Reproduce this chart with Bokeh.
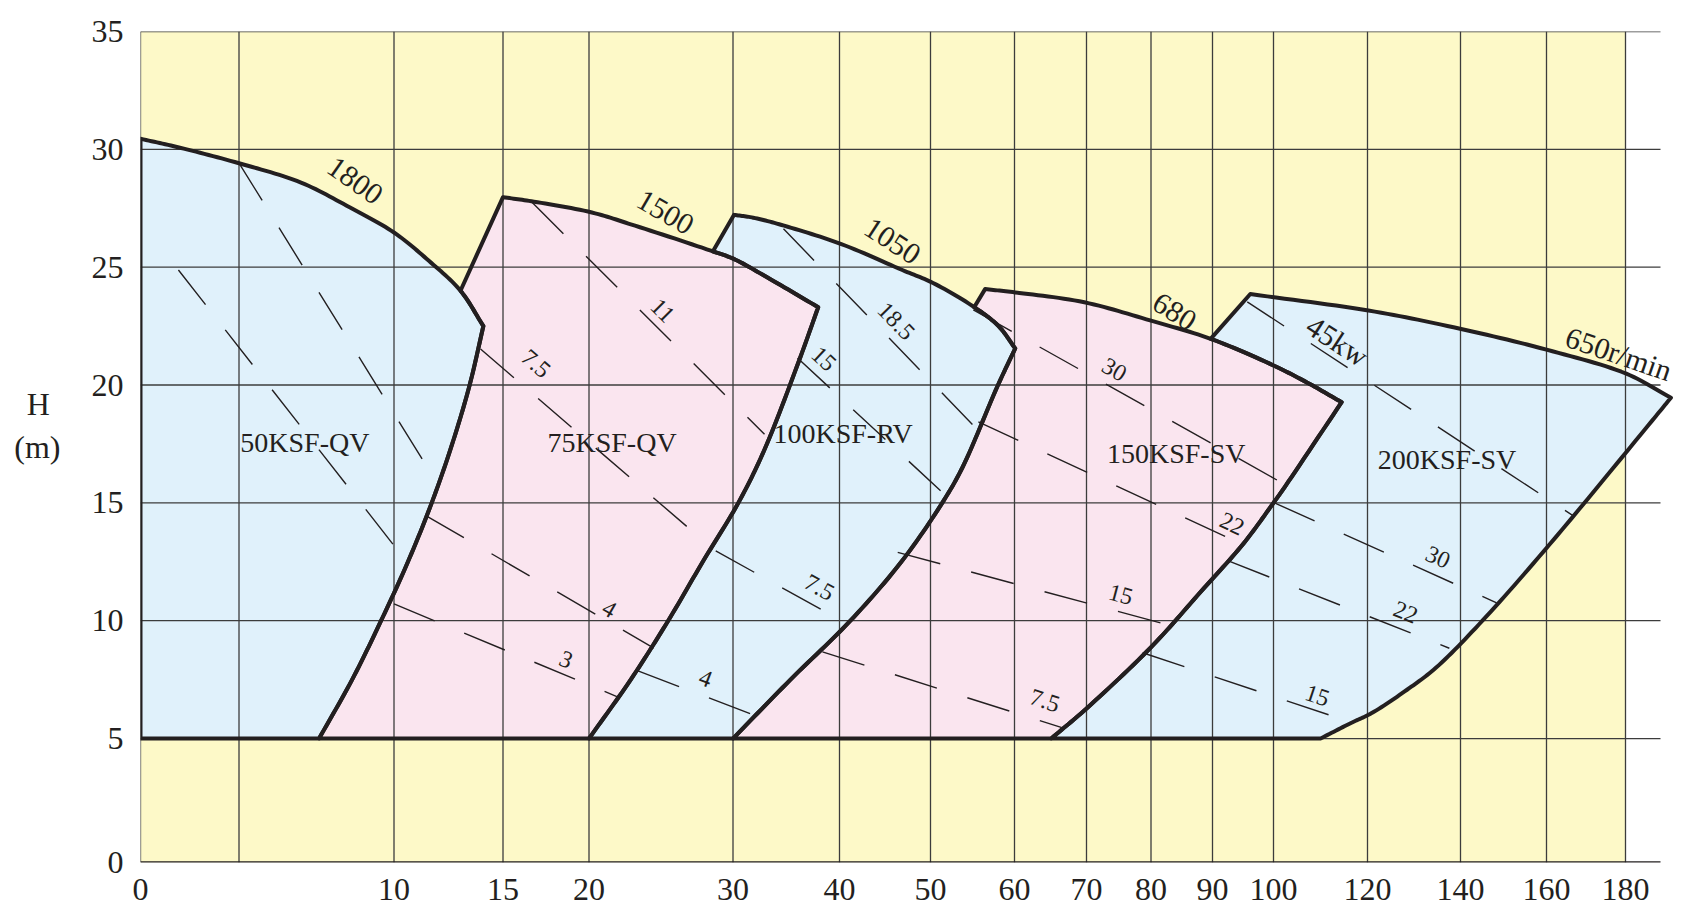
import math
import numpy as np
from bokeh.plotting import figure
from bokeh.models import Range1d, FixedTicker, CustomJSTickFormatter
from bokeh.embed import file_html
from bokeh.resources import INLINE
from bokeh.core.properties import value

# ---------------- data ----------------
# non-uniform flow axis Q: tick values and where they sit along the axis (px from left edge)
Q_AXIS = [0, 4, 10, 15, 20, 30, 40, 50, 60, 70, 80, 90, 100, 120, 140, 160, 180]
Q_AXIS_POS = [0, 98.5, 253.5, 362.5, 448.5, 592.5, 699, 790, 874, 946, 1010.5, 1072, 1133, 1227, 1320, 1406, 1485]
X_TICK_LABELS = ["0", "", "10", "15", "20", "30", "40", "50", "60", "70", "80", "90", "100", "120", "140", "160", "180"]
# head axis H: the 0-5 band is drawn a little taller than the others
H_AXIS = [0, 5, 35]
H_AXIS_POS = [-0.26, 5, 35]
H_TICKS = [0, 5, 10, 15, 20, 25, 30, 35]

MODELS = ["50KSF-QV", "75KSF-QV", "100KSF-RV", "150KSF-SV", "200KSF-SV"]
MODEL_Q = [6.55, 21.6, 40.4, 84.1, 137.1]
MODEL_H = [17.56, 17.56, 17.93, 17.1, 16.85]

# top (max-speed) curves, from the upper-left corner to the right corner
R1_TOP_Q = [0, 1.6, 4, 6.4, 8.3, 10, 11.6, 13.05, 14.1]
R1_TOP_H = [30.45, 30.07, 29.41, 28.59, 27.53, 26.47, 25.27, 24.0, 22.5]
R2_TOP_Q = [15, 16.8, 20.2, 23.2, 28.46, 30.07, 33.2, 38.0]
R2_TOP_H = [27.97, 27.78, 27.32, 26.76, 25.7, 25.35, 24.57, 23.3]
R3_TOP_Q = [30.1, 31.9, 34.8, 40.2, 46.9, 50.3, 55.1, 58.1, 60.1]
R3_TOP_H = [27.22, 27.1, 26.76, 25.98, 24.88, 24.33, 23.33, 22.5, 21.55]
R4_TOP_Q = [56.5, 60.1, 69.7, 80, 89.7, 100, 107.2, 114.5]
R4_TOP_H = [24.07, 23.93, 23.51, 22.73, 21.96, 20.83, 20.1, 19.27]
R5_TOP_Q = [96.2, 120.2, 138.5, 160, 180.2, 191.5]
R5_TOP_H = [23.86, 23.16, 22.45, 21.5, 20.48, 19.46]

# right-hand edges, from just below the right corner down to H = 5
R1_RIGHT_Q = [13.47, 12.67, 11.73, 10.64, 9.5, 8.38, 7.1]
R1_RIGHT_H = [20, 17.5, 15, 12.5, 10, 7.5, 5]
R2_RIGHT_Q = [36.2, 32.9, 30.5, 27.9, 25.5, 22.9, 20]
R2_RIGHT_H = [21.03, 17.2, 15, 12.5, 10, 7.5, 5]
R3_RIGHT_Q = [58.0, 53.8, 51.4, 46.8, 41.2, 35.4, 30.0]
R3_RIGHT_H = [19.97, 16.5, 15, 12.5, 10, 7.5, 5]
R4_RIGHT_Q = [101.9, 100, 95.1, 88.1, 80.1, 70.1, 65.1]
R4_RIGHT_H = [15.53, 15.0, 13.28, 11.23, 8.9, 6.3, 5]
R5_RIGHT_Q = [186.8, 160.6, 145.1, 134.7, 128.5, 120.9, 116.5, 110.0]
R5_RIGHT_H = [18.5, 13.2, 10, 8, 7.07, 6.08, 5.66, 5.0]

# where each region's left edge meets the previous region's top curve
MEET_Q = [13.05, 28.6, 55.2, 89.7]
MEET_H = [24.0, 25.67, 23.3, 21.96]

# speed labels on the top curves
SPEED_TEXT = ["1800", "1500", "1050", "680", "650r/min"]
SPEED_Q = [8.49, 25.3, 45.8, 83.8, 178.3]
SPEED_H = [28.66, 27.32, 26.1, 23.1, 21.33]
SPEED_ANGLE = [-35, -30, -33, -32, -19]

# power (kW) lines: start and end points, and label
PW_Q0 = [4.0, 1.54, 16.7, 13.97, 11.46, 10.0, 34.74, 36.06, 28.8, 23.4, 55.1, 55.7, 46.4, 38.4, 95.7, 100.2, 92.6, 78.7]
PW_H0 = [29.42, 24.88, 27.74, 21.53, 14.46, 10.71, 26.63, 21.15, 12.96, 7.87, 23.19, 18.44, 12.9, 8.68, 23.53, 15.0, 12.54, 8.64]
PW_Q1 = [12.0, 10.44, 32.96, 28.5, 24.5, 22.1, 55.5, 51.2, 40.7, 32.4, 102.6, 95.4, 83.8, 66.7, 166.8, 148.4, 137.6, 116.8]
PW_H1 = [15.8, 12.67, 17.91, 13.1, 8.84, 6.74, 18.14, 15.51, 9.9, 5.92, 15.76, 13.18, 9.75, 5.45, 14.45, 10.76, 8.83, 5.67]
PW_TEXT = ["", "", "11", "7.5", "4", "3", "18.5", "15", "7.5", "4", "30", "22", "15", "7.5", "45kw", "30", "22", "15"]
PW_LQ = [0, 0, 25.1, 16.9, 21.4, 18.66, 46.2, 38.5, 38.1, 28.1, 74.3, 93.2, 75.3, 64.2, 113.6, 135.1, 128.2, 109.3]
PW_LH = [0, 0, 23.15, 20.9, 10.48, 8.34, 22.7, 21.1, 11.4, 7.54, 20.64, 14.1, 11.1, 6.6, 21.87, 12.68, 10.35, 6.81]

# ---------------- helpers ----------------
FRAME_W, FRAME_H = 1540, 831
V0, V1 = H_AXIS_POS[0], H_AXIS_POS[-1]
PX_PER_V = FRAME_H / (V1 - V0)
U_GRID_END = 1520


def ux(q):
    q = np.asarray(q, dtype=float)
    u = np.interp(q, Q_AXIS, Q_AXIS_POS)
    slope = (Q_AXIS_POS[-1] - Q_AXIS_POS[-2]) / (Q_AXIS[-1] - Q_AXIS[-2])
    return np.where(q > Q_AXIS[-1], Q_AXIS_POS[-1] + (q - Q_AXIS[-1]) * slope, u)


def vy(h):
    return np.interp(np.asarray(h, dtype=float), H_AXIS, H_AXIS_POS)


def fl(a):
    return [float(v) for v in np.atleast_1d(a)]


def smooth_screen(qs, hs, n=14):
    """Centripetal Catmull-Rom through the read points, drawn in screen space."""
    P = np.column_stack([ux(qs), vy(hs) * PX_PER_V])
    if len(P) < 3:
        return fl(P[:, 0]), fl(P[:, 1] / PX_PER_V)
    P = np.vstack([2 * P[0] - P[1], P, 2 * P[-1] - P[-2]])
    out = []
    for i in range(1, len(P) - 2):
        p0, p1, p2, p3 = P[i - 1], P[i], P[i + 1], P[i + 2]
        t0 = 0.0
        t1 = t0 + max(np.linalg.norm(p1 - p0), 1e-6) ** 0.5
        t2 = t1 + max(np.linalg.norm(p2 - p1), 1e-6) ** 0.5
        t3 = t2 + max(np.linalg.norm(p3 - p2), 1e-6) ** 0.5
        for t in np.linspace(t1, t2, n, endpoint=False):
            a1 = (t1 - t) / (t1 - t0) * p0 + (t - t0) / (t1 - t0) * p1
            a2 = (t2 - t) / (t2 - t1) * p1 + (t - t1) / (t2 - t1) * p2
            a3 = (t3 - t) / (t3 - t2) * p2 + (t - t2) / (t3 - t2) * p3
            b1 = (t2 - t) / (t2 - t0) * a1 + (t - t0) / (t2 - t0) * a2
            b2 = (t3 - t) / (t3 - t1) * a2 + (t - t1) / (t3 - t1) * a3
            out.append((t2 - t) / (t2 - t1) * b1 + (t - t1) / (t2 - t1) * b2)
    out.append(P[-2])
    out = np.array(out)
    return fl(out[:, 0]), fl(out[:, 1] / PX_PER_V)


FONT = "Liberation Serif"
INK = "#231f20"
GRID = "#3c3c3c"
YELLOW = "#FDF9C8"
BLUE = "#E0F1FB"
PINK = "#FAE5EF"
FILLS = [BLUE, PINK, BLUE, PINK, BLUE]

TOPS_Q = [R1_TOP_Q, R2_TOP_Q, R3_TOP_Q, R4_TOP_Q, R5_TOP_Q]
TOPS_H = [R1_TOP_H, R2_TOP_H, R3_TOP_H, R4_TOP_H, R5_TOP_H]
RIGHTS_Q = [R1_RIGHT_Q, R2_RIGHT_Q, R3_RIGHT_Q, R4_RIGHT_Q, R5_RIGHT_Q]
RIGHTS_H = [R1_RIGHT_H, R2_RIGHT_H, R3_RIGHT_H, R4_RIGHT_H, R5_RIGHT_H]

tops, rights = [], []
for k in range(5):
    tops.append(smooth_screen(TOPS_Q[k], TOPS_H[k]))
    rights.append(smooth_screen([TOPS_Q[k][-1]] + RIGHTS_Q[k], [TOPS_H[k][-1]] + RIGHTS_H[k]))

xs, ys = [], []
for k in range(5):
    tu, tv = tops[k]
    ru, rv = rights[k]
    if k == 0:
        us = [0.0] + tu + ru[1:]
        vs = [float(vy(5))] + tv + rv[1:]
    else:
        mu, mv = float(ux(MEET_Q[k - 1])), float(vy(MEET_H[k - 1]))
        pu, pv = tops[k - 1]
        pru, prv = rights[k - 1]
        back = [(a, b) for a, b in zip(pu, pv) if a > mu][::-1]
        us = [mu] + tu + ru[1:] + pru[::-1][:-1] + [a for a, _ in back]
        vs = [mv] + tv + rv[1:] + prv[::-1][:-1] + [b for _, b in back]
    xs.append(us)
    ys.append(vs)

# ---------------- figure ----------------
p = figure(width=1684, height=915, x_range=Range1d(0, FRAME_W), y_range=Range1d(V0, V1),
           output_backend="svg", toolbar_location=None,
           min_border_left=140, min_border_right=4, min_border_top=31, min_border_bottom=53)
p.outline_line_color = None
p.grid.visible = False
p.background_fill_color = "white"

# yellow chart area
p.quad(left=0, right=float(ux(180)), bottom=V0, top=V1, fill_color=YELLOW, line_color=None)

# region fills
p.patches(xs, ys, fill_color=FILLS, line_color=None)

# grid
vx = fl(ux(Q_AXIS))
hv = fl(vy(H_TICKS))
p.segment(x0=vx, y0=[V0] * len(vx), x1=vx, y1=[V1] * len(vx), line_color=GRID, line_width=1.3)
p.segment(x0=[0] * (len(hv) - 1), y0=hv[1:], x1=[U_GRID_END] * (len(hv) - 1), y1=hv[1:],
          line_color=GRID, line_width=1.3)
p.segment(x0=[0], y0=[hv[0]], x1=[U_GRID_END], y1=[hv[0]], line_color=INK, line_width=2.5)

# region outlines
p.patches(xs, ys, fill_alpha=0, line_color=INK, line_width=4, line_join="round")

# power lines
p.segment(x0=fl(ux(PW_Q0)), y0=fl(vy(PW_H0)), x1=fl(ux(PW_Q1)), y1=fl(vy(PW_H1)),
          line_color=INK, line_width=1.4, line_dash="44 32")

# power labels, rotated along their line
for i, t in enumerate(PW_TEXT):
    if not t:
        continue
    du = float(ux(PW_Q1[i]) - ux(PW_Q0[i]))
    dv = float(vy(PW_H1[i]) - vy(PW_H0[i])) * PX_PER_V
    ang = math.atan2(dv, du)
    size = "30px" if t.endswith("kw") else "24px"
    p.text(x=fl(ux(PW_LQ[i])), y=fl(vy(PW_LH[i])), text=[t], angle=ang,
           text_font=value(FONT), text_font_size=size, text_color=INK,
           text_align="center", text_baseline="middle")

# speed labels
for t, q, h, a in zip(SPEED_TEXT, SPEED_Q, SPEED_H, SPEED_ANGLE):
    p.text(x=fl(ux(q)), y=fl(vy(h)), text=[t], angle=math.radians(a),
           text_font=value(FONT), text_font_size="30px", text_color=INK,
           text_align="center", text_baseline="middle")

# model names
p.text(x=fl(ux(MODEL_Q)), y=fl(vy(MODEL_H)), text=MODELS, text_font=value(FONT),
       text_font_size="28px", text_color=INK, text_align="center", text_baseline="middle")

# axes
NEAREST = """
    let best = 0, d = 1e9;
    for (let i = 0; i < pos.length; i++) { const e = Math.abs(pos[i] - tick); if (e < d) { d = e; best = i; } }
    return labels[best];
"""
xa = p.xaxis[0]
xa.ticker = FixedTicker(ticks=vx)
xa.formatter = CustomJSTickFormatter(args=dict(pos=vx, labels=X_TICK_LABELS), code=NEAREST)
ya = p.yaxis[0]
ya.ticker = FixedTicker(ticks=hv)
ya.formatter = CustomJSTickFormatter(args=dict(pos=hv, labels=[str(h) for h in H_TICKS]), code=NEAREST)
for ax in (xa, ya):
    ax.axis_line_color = None
    ax.major_tick_line_color = None
    ax.minor_tick_line_color = None
    ax.major_tick_out = 0
    ax.major_tick_in = 0
    ax.major_label_text_font = FONT
    ax.major_label_text_font_size = "32px"
    ax.major_label_text_color = INK
xa.major_label_standoff = 16
ya.major_label_standoff = 17

# y title: two lines, "H" padded so it sits centred above "(m)"
ya.axis_label = "H \u200a\n(m)\n"
ya.axis_label_orientation = "horizontal"
ya.axis_label_text_font = FONT
ya.axis_label_text_font_size = "32px"
ya.axis_label_text_font_style = "normal"
ya.axis_label_text_color = INK
ya.axis_label_text_align = "center"
ya.axis_label_standoff = 28

open("out.html", "w").write(file_html(p, INLINE))
